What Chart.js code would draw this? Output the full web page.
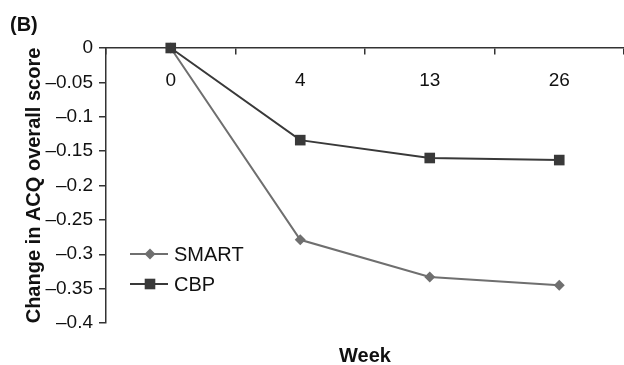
<!DOCTYPE html>
<html>
<head>
<meta charset="utf-8">
<script src="https://cdn.jsdelivr.net/npm/chart.js@4/dist/chart.umd.min.js"></script>
<style>
  html, body { margin: 0; padding: 0; background: #fff; }
  #wrap { width: 624px; height: 365px; position: relative; }
</style>
</head>
<body>
<div id="wrap"><canvas id="c"></canvas></div>
<script>
// 주차(범주)와 두 군의 ACQ 점수 변화량 — 그림에서 눈으로 읽은 값
const weeks = ["0", "4", "13", "26"];
const smart = [0, -0.279, -0.333, -0.345];
const cbp = [0, -0.134, -0.160, -0.163];

// y축 눈금 (값과 표시 글자)
const yTickValues = [-0.4, -0.35, -0.3, -0.25, -0.2, -0.15, -0.1, -0.05, 0];
const yTickLabels = ["\u20130.4", "\u20130.35", "\u20130.3", "\u20130.25", "\u20130.2", "\u20130.15", "\u20130.1", "\u20130.05", "0"];

const AXIS = "#333333";
const FONT = "'Liberation Sans', Arial, sans-serif";

// 범례와 패널 글자("(B)", "Week")는 직접 그린다 — 범례가 그림 안쪽에 있어서
const extras = {
  id: "extras",
  afterDraw(chart) {
    const { ctx, chartArea: area } = chart;
    ctx.save();
    ctx.fillStyle = "#111";
    ctx.textBaseline = "alphabetic";
    ctx.font = "bold 20px " + FONT;
    ctx.textAlign = "left";
    ctx.fillText("(B)", 10, 31);
    ctx.textAlign = "center";
    ctx.fillText("Week", (area.left + area.right) / 2, 362);

    // 범례: 선 + 표식 + 이름
    const rows = [{ y: 254 }, { y: 284 }];
    chart.data.datasets.forEach((ds, i) => {
      const y = rows[i].y;
      ctx.strokeStyle = ds.borderColor;
      ctx.lineWidth = ds.borderWidth;
      ctx.beginPath();
      ctx.moveTo(130, y);
      ctx.lineTo(168, y);
      ctx.stroke();
      ctx.fillStyle = ds.pointBackgroundColor;
      Chart.helpers.drawPoint(ctx, { pointStyle: ds.pointStyle, radius: ds.pointRadius, rotation: 0, borderWidth: 0 }, 150, y);
      ctx.fillStyle = "#111";
      ctx.font = "20px " + FONT;
      ctx.textAlign = "left";
      ctx.textBaseline = "middle";
      ctx.fillText(ds.label, 174, y + 1);
    });
    ctx.restore();
  },
};

new Chart(document.getElementById("c"), {
  type: "line",
  data: {
    labels: weeks,
    datasets: [
      {
        label: "SMART",
        data: smart,
        order: 1,
        borderColor: "#6f6f6f",
        backgroundColor: "#6f6f6f",
        pointBackgroundColor: "#6f6f6f",
        pointBorderWidth: 0,
        pointStyle: "rectRot",
        pointRadius: 5.5,
        borderWidth: 2,
        tension: 0,
        clip: false,
      },
      {
        label: "CBP",
        data: cbp,
        order: 0, // 0주차에서 CBP 네모가 위에 보이도록
        borderColor: "#393939",
        backgroundColor: "#393939",
        pointBackgroundColor: "#393939",
        pointBorderWidth: 0,
        pointStyle: "rect",
        pointRadius: 7.5,
        borderWidth: 2,
        tension: 0,
        clip: false,
      },
    ],
  },
  options: {
    responsive: true,
    maintainAspectRatio: false,
    animation: false,
    // autoPadding을 끄지 않으면 점 크기만큼 오른쪽 여백이 생겨 축이 끝까지 안 닿는다
    layout: { autoPadding: false, padding: { top: 48, bottom: 42, left: 0, right: 0 } },
    plugins: { legend: { display: false }, tooltip: { enabled: false } },
    scales: {
      x: {
        type: "category",
        position: { y: 0 },
        offset: true,
        grid: { drawOnChartArea: false, offset: true, tickLength: 6, color: AXIS, lineWidth: 1.5 },
        border: { color: AXIS, width: 1.5 },
        ticks: { color: "#111", font: { family: FONT, size: 19 }, padding: 15 },
      },
      y: {
        min: -0.4,
        max: 0,
        afterFit(scale) { scale.width = 106; },
        grid: { drawOnChartArea: false, tickLength: 7, color: AXIS, lineWidth: 1.5 },
        border: { color: AXIS, width: 1.5 },
        ticks: {
          stepSize: 0.05,
          color: "#111",
          font: { family: FONT, size: 19 },
          padding: 6,
          callback: (v) => {
            const i = yTickValues.findIndex((t) => Math.abs(t - v) < 1e-9);
            return i < 0 ? "" : yTickLabels[i];
          },
        },
        title: {
          display: true,
          text: "Change in ACQ overall score",
          color: "#111",
          font: { family: FONT, size: 20, weight: "bold" },
          padding: { top: 22, bottom: 0 },
        },
      },
    },
  },
  plugins: [extras],
});
</script>
</body>
</html>
